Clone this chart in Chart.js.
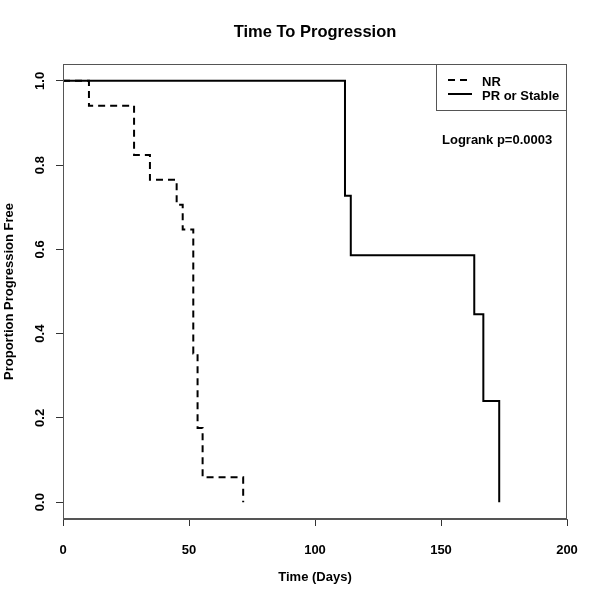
<!DOCTYPE html>
<html>
<head>
<meta charset="utf-8">
<script src="https://cdn.jsdelivr.net/npm/chart.js@4.4.1/dist/chart.umd.min.js"></script>
<style>
  body { margin: 0; background: #fff; }
  canvas { display: block; }
</style>
</head>
<body>
<canvas id="kmChart" width="601" height="601"></canvas>
<script>
// Kaplan-Meier steps (days, proportion free)
var nrDays = [0, 10.3, 28.2, 34.5, 45.1, 47.5, 51.7, 53.4, 55.4, 71.5];
var nrSurv = [1, 0.941, 0.824, 0.765, 0.706, 0.647, 0.353, 0.176, 0.059, 0];
var prDays = [0, 111.9, 114.2, 163.2, 166.8, 173.1];
var prSurv = [1, 0.727, 0.586, 0.446, 0.240, 0];

var seriesNames = ['NR', 'PR or Stable'];
var xTicks = [0, 50, 100, 150, 200];
var yTicks = [0, 0.2, 0.4, 0.6, 0.8, 1.0];
var mainTitle = 'Time To Progression';
var pText = 'Logrank p=0.0003';

var fontFam = "'Liberation Sans', Arial, sans-serif";

function pts(xs, ys) {
    return xs.map(function (x, i) { return { x: x, y: ys[i] }; });
}

// title over the plot, box round it, legend + p value, like the R plot
var rBox = {
    id: 'rBox',
    afterDraw: function (chart) {
        var c = chart.ctx, a = chart.chartArea;
        c.save();
        c.fillStyle = '#000';
        c.font = 'bold 16.5px ' + fontFam;
        c.textAlign = 'center';
        c.textBaseline = 'middle';
        c.fillText(mainTitle, (a.left + a.right) / 2, 32);

        c.strokeStyle = '#555';
        c.lineWidth = 1;
        c.strokeRect(a.left + 0.5, a.top + 0.5, a.right - a.left - 1, a.bottom - a.top - 1);

        // legend
        var lx = a.right - 131, ly = a.top, lw = 131, lh = 46;
        c.strokeRect(lx + 0.5, ly + 0.5, lw - 1, lh);
        c.font = 'bold 13px ' + fontFam;
        c.textAlign = 'left';
        var rows = [16, 30];
        chart.data.datasets.forEach(function (ds, i) {
            var y = ly + rows[i];
            c.beginPath();
            c.setLineDash(ds.borderDash || []);
            c.lineWidth = 2;
            c.strokeStyle = '#000';
            c.moveTo(lx + 12, y);
            c.lineTo(lx + 36, y);
            c.stroke();
            c.setLineDash([]);
            c.fillText(ds.label, lx + 46, y + 2);
        });

        c.fillText(pText, lx + 6, a.top + 76);
        c.restore();
    }
};

var ctx = document.getElementById('kmChart');
new Chart(ctx, {
    type: 'line',
    data: {
        datasets: [{
            label: seriesNames[0],
            data: pts(nrDays, nrSurv),
            stepped: 'before',
            borderColor: '#000',
            borderWidth: 2,
            borderDash: [7, 5],
            pointRadius: 0,
            fill: false
        }, {
            label: seriesNames[1],
            data: pts(prDays, prSurv),
            stepped: 'before',
            borderColor: '#000',
            borderWidth: 2,
            pointRadius: 0,
            fill: false
        }]
    },
    options: {
        responsive: false,
        animation: false,
        layout: { padding: { top: 64, right: 34, bottom: 0, left: 0 } },
        plugins: {
            legend: { display: false },
            tooltip: { enabled: false },
            title: { display: false }
        },
        scales: {
            x: {
                type: 'linear',
                min: 0,
                max: 200,
                afterBuildTicks: function (s) { s.ticks = xTicks.map(function (v) { return { value: v }; }); },
                afterFit: function (s) { s.height = 82; },
                grid: { drawOnChartArea: false, drawTicks: true, tickLength: 7, color: '#333' },
                border: { display: true, color: '#555' },
                ticks: {
                    color: '#000',
                    padding: 17,
                    autoSkip: false,
                    maxRotation: 0,
                    font: { family: fontFam, size: 13, weight: 'bold' }
                },
                title: {
                    display: true,
                    text: 'Time (Days)',
                    color: '#000',
                    font: { family: fontFam, size: 13, weight: 'bold' },
                    padding: { top: 0, bottom: 16 }
                }
            },
            y: {
                type: 'linear',
                min: -0.04,
                max: 1.04,
                afterBuildTicks: function (s) { s.ticks = yTicks.map(function (v) { return { value: v }; }); },
                afterFit: function (s) { s.width = 63; },
                grid: { drawOnChartArea: false, drawTicks: true, tickLength: 7, color: '#333' },
                border: { display: true, color: '#555' },
                ticks: {
                    color: '#000',
                    padding: 7,
                    autoSkip: false,
                    minRotation: 90,
                    maxRotation: 90,
                    crossAlign: 'center',
                    font: { family: fontFam, size: 13, weight: 'bold' },
                    callback: function (v) { return v.toFixed(1); }
                },
                title: {
                    display: true,
                    text: 'Proportion Progression Free',
                    color: '#000',
                    font: { family: fontFam, size: 13, weight: 'bold' },
                    padding: { top: 2, bottom: 0 }
                }
            }
        }
    },
    plugins: [rBox]
});
</script>
</body>
</html>
